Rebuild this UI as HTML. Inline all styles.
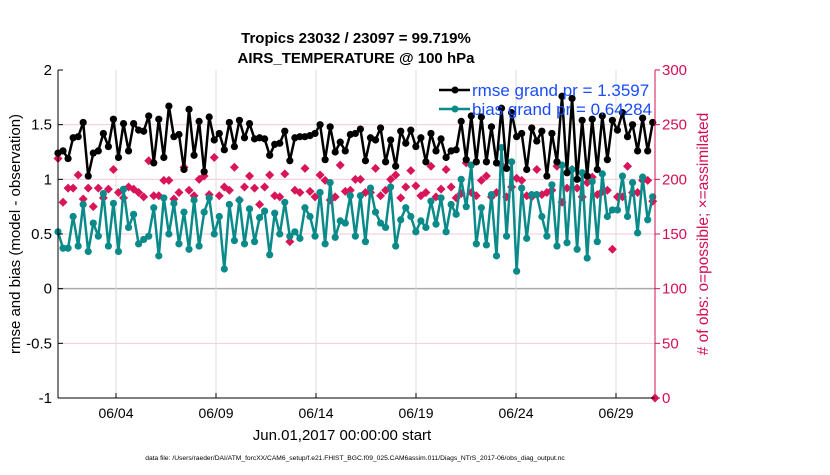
<!DOCTYPE html>
<html><head><meta charset="utf-8"><style>
body{margin:0;background:#fff;font-family:"Liberation Sans",sans-serif}
svg text{font-family:"Liberation Sans",sans-serif}
</style></head><body>
<svg id="chart" width="830" height="470" viewBox="0 0 830 470" xmlns="http://www.w3.org/2000/svg">
<rect width="830" height="470" fill="#fff"/>
<g id="grid"></g>
<g id="series"></g>
<g id="axes"></g>
<text x="356" y="43" font-size="15" font-weight="bold" text-anchor="middle">Tropics 23032 / 23097 = 99.719%</text>
<text x="356" y="63" font-size="15" font-weight="bold" text-anchor="middle">AIRS_TEMPERATURE @ 100 hPa</text>
<text transform="translate(20,234) rotate(-90)" font-size="15" text-anchor="middle">rmse and bias (model - observation)</text>
<text transform="translate(708,234) rotate(-90)" font-size="15.5" text-anchor="middle" fill="#d4104f"># of obs: o=possible; ×=assimilated</text>
<text x="342" y="440" font-size="15" text-anchor="middle">Jun.01,2017 00:00:00 start</text>
<text x="355" y="460" font-size="6.7" text-anchor="middle">data file: /Users/raeder/DAI/ATM_forcXX/CAM6_setup/f.e21.FHIST_BGC.f09_025.CAM6assim.011/Diags_NTrS_2017-06/obs_diag_output.nc</text>
<g>
<line x1="439" y1="90" x2="470" y2="90" stroke="#000" stroke-width="2.5"/>
<circle cx="455" cy="90" r="3.5" fill="#000"/>
<text x="472" y="96" font-size="17" fill="#1a4cff">rmse grand pr = 1.3597</text>
<line x1="439" y1="109" x2="470" y2="109" stroke="#0b8a8a" stroke-width="2.5"/>
<circle cx="455" cy="109" r="3.5" fill="#0b8a8a"/>
<text x="472" y="115" font-size="17" fill="#1a4cff">bias grand pr = 0.64284</text>
</g>
</svg>
<script>
const rmse=[1.24,1.26,1.19,1.38,1.39,1.52,1.03,1.24,1.26,1.42,1.30,1.55,1.20,1.51,1.26,1.51,1.45,1.44,1.58,1.15,1.55,1.20,1.67,1.39,1.41,1.09,1.64,1.22,1.53,1.07,
1.57,1.36,1.42,1.27,1.52,1.30,1.54,1.38,1.51,1.37,1.38,1.37,1.22,1.32,1.33,1.44,1.17,1.38,1.39,1.39,1.40,1.42,1.50,1.18,1.48,1.25,1.34,1.26,1.41,1.42,
1.46,1.17,1.38,1.36,1.47,1.16,1.36,1.12,1.44,1.33,1.45,1.30,1.38,1.16,1.42,1.26,1.37,1.20,1.26,1.27,1.53,1.18,1.58,1.16,1.57,1.16,1.48,1.15,1.65,1.10,
1.61,1.39,1.42,1.09,1.47,1.35,1.44,1.03,1.42,1.16,1.76,1.06,1.74,1.00,1.54,1.03,1.55,1.09,1.58,1.18,1.54,1.45,1.61,1.39,1.50,1.26,1.56,1.26,1.52];
const bias=[0.52,0.37,0.37,0.66,0.39,0.77,0.34,0.60,0.48,0.87,0.39,0.78,0.34,0.91,0.56,0.68,0.41,0.45,0.48,0.74,0.30,0.83,0.50,0.78,0.41,0.70,0.36,0.81,0.39,0.70,
0.83,0.50,0.66,0.18,0.77,0.44,0.81,0.41,0.73,0.43,0.65,0.71,0.31,0.69,0.50,0.79,0.48,0.52,0.46,0.74,0.66,0.48,0.88,0.41,0.97,0.47,0.62,0.60,0.85,0.48,
0.85,0.43,0.92,0.70,0.60,0.56,0.93,0.39,0.63,0.74,0.66,0.52,0.62,0.56,0.80,0.59,0.83,0.52,0.77,0.68,1.00,0.75,1.13,0.41,0.74,0.40,0.86,0.30,1.29,0.48,
1.16,0.16,0.92,0.46,0.86,0.86,0.66,0.48,0.95,0.39,1.13,0.42,1.09,0.36,1.06,0.28,0.98,0.43,1.05,0.66,0.72,0.72,1.03,0.66,0.97,0.51,1.02,0.63,0.84];
const nobs=[219,179,192,192,204,182,192,175,192,183,191,209,188,183,193,191,188,184,217,185,185,199,199,182,188,211,190,185,200,203,
186,220,185,193,190,211,181,193,203,192,177,193,204,185,184,205,143,190,188,210,189,184,204,199,181,184,213,189,190,200,
200,188,188,210,185,190,200,204,183,193,208,194,185,188,212,184,191,209,193,183,187,215,188,185,199,203,184,188,213,184,
193,201,199,185,184,209,186,188,190,212,179,192,209,192,184,197,202,186,189,190,136,184,184,212,188,188,199,199,180];
const nobsEnd=0;
const xTickLabels=["06/04","06/09","06/14","06/19","06/24","06/29"];
const xTickDays=[3,8,13,18,23,28];
const yTicks=[2,1.5,1,0.5,0,-0.5,-1];
const y2Ticks=[300,250,200,150,100,50,0];

const L=58,R=655,T=70,B=398;
const X=d=>56+d*20;
const Y=v=>T+(2-v)/3*(B-T);
const Y2=c=>B-c/300*(B-T);
const tday=i=>0.1+i*0.252;
const NS="http://www.w3.org/2000/svg";
function mk(tag,attrs,parent){const e=document.createElementNS(NS,tag);for(const k in attrs)e.setAttribute(k,attrs[k]);parent.appendChild(e);return e;}
const grid=document.getElementById('grid'),ser=document.getElementById('series'),ax=document.getElementById('axes');

yTicks.forEach(v=>{
  if(v===2||v===-1)return;
  const g=mk('line',{x1:L,x2:R,y1:Y(v),y2:Y(v),stroke:v===0?'#aaa':'#f6c9d8','stroke-width':v===0?1.5:1},grid);
  
  
});
xTickDays.forEach((d,i)=>{
  const g=mk('line',{x1:X(d),x2:X(d),y1:T,y2:B,stroke:'#ddd','stroke-width':1},grid);
  
  
  const tk=mk('line',{x1:X(d),x2:X(d),y1:B,y2:B-5,stroke:'#000'},ax);
  
  
  const t=mk('text',{x:X(d),y:B+20,'font-size':14,'text-anchor':'middle'},ax);
  t.textContent=xTickLabels[i];
  
  
});

function diamond(x,y){
  const p=mk('path',{d:`M${x} ${y-4.5}L${x+4.5} ${y}L${x} ${y+4.5}L${x-4.5} ${y}Z`,fill:'#d9155a'},ser);
  
  
}
nobs.forEach((c,i)=>diamond(X(tday(i)),Y2(c)));

function series(vals,color,name){
  const pts=vals.map((v,i)=>X(tday(i)).toFixed(1)+','+Y(v).toFixed(1)).join(' ');
  const pl=mk('polyline',{points:pts,fill:'none',stroke:color,'stroke-width':2.5,'stroke-linejoin':'round'},ser);
  
  
  vals.forEach((v,i)=>{
    const c=mk('circle',{cx:X(tday(i)),cy:Y(v),r:3.6,fill:color},ser);
    
    
  });
}
series(bias,'#0b8a8a','bias');
series(rmse,'#000','rmse');
diamond(R,Y2(nobsEnd));

const la=mk('line',{x1:L,x2:L,y1:T,y2:B,stroke:'#000'},ax);


const ba=mk('line',{x1:L,x2:R,y1:B,y2:B,stroke:'#000'},ax);


const ra=mk('line',{x1:R,x2:R,y1:T,y2:B,stroke:'#d4104f'},ax);


yTicks.forEach(v=>{
  const tk=mk('line',{x1:L,x2:L+5,y1:Y(v),y2:Y(v),stroke:'#000'},ax);
  
  
  const t=mk('text',{x:L-6,y:Y(v)+5,'font-size':15,'text-anchor':'end'},ax);
  t.textContent=String(v);
  
  
});
y2Ticks.forEach(c=>{
  const tk=mk('line',{x1:R,x2:R+5,y1:Y2(c),y2:Y2(c),stroke:'#d4104f'},ax);
  
  
  const t=mk('text',{x:R+7,y:Y2(c)+5,'font-size':15,fill:'#d4104f'},ax);
  t.textContent=String(c);
  
  
});
</script>
</body></html>
